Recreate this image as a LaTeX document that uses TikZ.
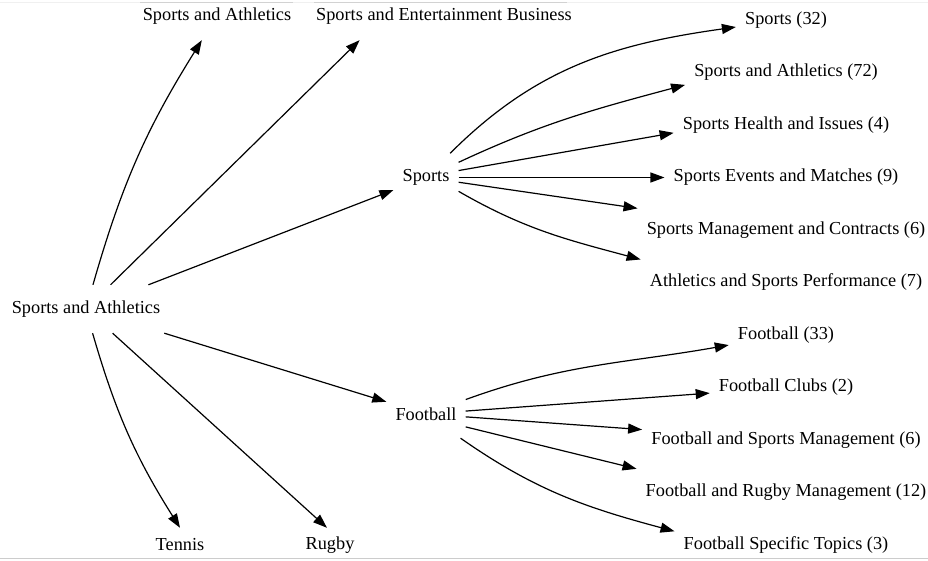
\documentclass[tikz,border=0pt]{standalone}
\usepackage{fontspec}
\setmainfont{Liberation Serif}
\usepackage{tikz}
\usetikzlibrary{arrows.meta}

\begin{document}
\begin{tikzpicture}[x=1pt, y=1pt,
    topic/.style={rectangle, minimum height=48pt, inner xsep=9pt, inner ysep=0pt,
      font=\fontsize{18.3}{20}\selectfont},
    leaf/.style={topic, minimum height=34pt},
    edge/.style={-{Triangle[length=14pt, width=10pt]}, line width=1.2pt}]
  \useasboundingbox (0,0) rectangle (928,561);

  % Frame lines
  \draw[gray!12, line width=1pt] (0,558) -- (928,558);
  \draw[gray!35, line width=1pt] (140,558) -- (293,558);
  \draw[gray!35, line width=1pt] (314,558) -- (567,558);
  \draw[gray!40, line width=1.5pt] (0,2.5) -- (928,2.5);

  % Nodes
  % Root
  \node[topic] (root) at (86,252) {Sports and Athletics};

  % First level
  \node[topic] (upsa) at (217,545) {Sports and Athletics};
  \node[topic] (upseb) at (444,545) {Sports and Entertainment Business};
  \node[topic] (sports) at (426,383.5) {Sports};
  \node[topic] (football) at (426,147) {Football};
  \node[leaf] (tennis) at (180,16) {Tennis};
  \node[leaf] (rugby) at (330,16) {Rugby};

  % Sports children
  \node[topic] (s32) at (786,541) {Sports (32)};
  \node[topic] (s72) at (786,488.5) {Sports and Athletics (72)};
  \node[topic] (shi) at (786,436) {Sports Health and Issues (4)};
  \node[topic] (sem) at (786,383.5) {Sports Events and Matches (9)};
  \node[topic] (smc) at (786,331) {Sports Management and Contracts (6)};
  \node[topic] (asp) at (786,278.5) {Athletics and Sports Performance (7)};

  % Football children
  \node[topic] (f33) at (786,226) {Football (33)};
  \node[topic] (fc) at (786,173.5) {Football Clubs (2)};
  \node[topic] (fsm) at (786,121) {Football and Sports Management (6)};
  \node[topic] (frm) at (786,68.5) {Football and Rugby Management (12)};
  \node[topic] (fst) at (786,16) {Football Specific Topics (3)};

  % Arrows
  \draw[edge] (root) to[bend left=8] (upsa);
  \draw[edge] (root) -- (upseb.196);
  \draw[edge] (root) -- (sports);
  \draw[edge] (root) -- (football);
  \draw[edge] (root) to[bend right=8] (tennis.north);
  \draw[edge] (root) -- (rugby.100);

  \draw[edge] (sports) to[out=45, in=188] (s32);
  \draw[edge] (sports) to[out=25, in=195] (s72.187);
  \draw[edge] (sports.12) -- (shi.184);
  \draw[edge] (sports) -- (sem);
  \draw[edge] (sports) -- (smc);
  \draw[edge] (sports.-23) to[out=-30, in=165] (asp.171);

  \draw[edge] (football) to[out=20, in=190] (f33);
  \draw[edge] (football) -- (fc);
  \draw[edge] (football) -- (fsm);
  \draw[edge] (football.-18) -- (frm.171);
  \draw[edge] (football) to[out=-35, in=165] (fst.173);

\end{tikzpicture}
\end{document}
